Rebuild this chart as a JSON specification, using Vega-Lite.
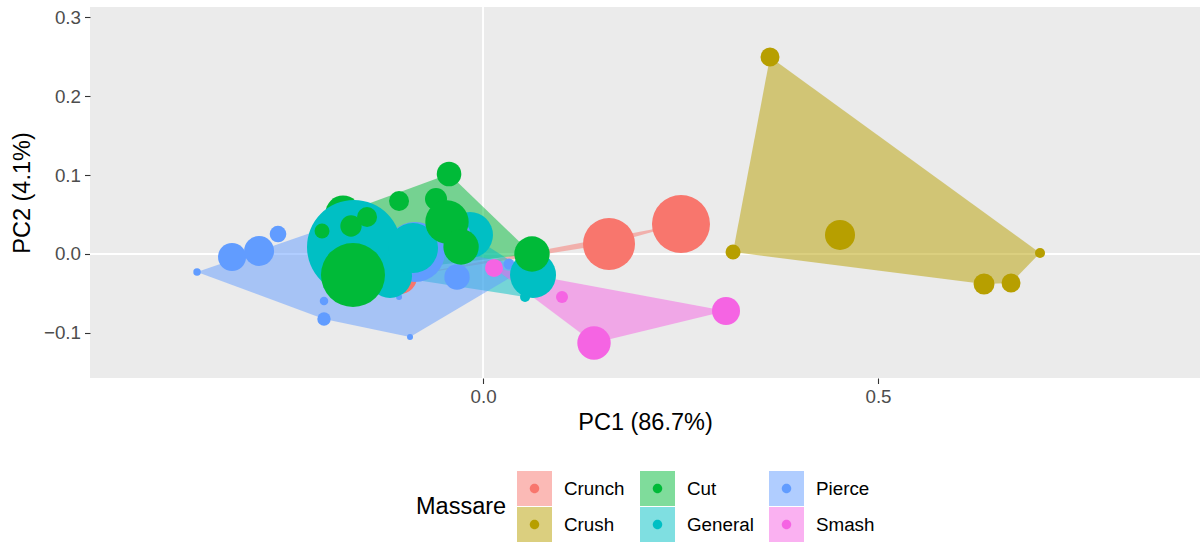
{
  "$schema": "https://vega.github.io/schema/vega-lite/v6.json",
  "width": 1110,
  "height": 371,
  "autosize": {"type": "none"},
  "padding": {"left": 90, "top": 7, "right": 2, "bottom": 166},
  "background": "white",
  "config": {
    "view": {"fill": "#EBEBEB", "stroke": null},
    "font": "Liberation Sans",
    "axis": {
      "grid": false, "domain": false,
      "tickColor": "#333333", "tickSize": 5.5, "tickWidth": 1.1,
      "labelColor": "#4D4D4D", "labelFontSize": 18.8, "labelFont": "Liberation Sans",
      "titleFont": "Liberation Sans", "titleFontSize": 23.5, "titleFontWeight": "normal", "titleColor": "#000000",
      "labelPadding": 4
    },
    "axisY": {"titlePadding": 9},
    "legend": {"labelFont": "Liberation Sans", "titleFont": "Liberation Sans"}
  },
  "datasets": {
    "points": [
      {"Massare": "Crunch", "PC1": -0.1051, "PC2": -0.0291, "n": 289},
      {"Massare": "Crunch", "PC1": 0.1595, "PC2": 0.0127, "n": 676},
      {"Massare": "Crunch", "PC1": 0.2506, "PC2": 0.0380, "n": 841},
      {"Massare": "Crush", "PC1": 0.3633, "PC2": 0.2494, "n": 90},
      {"Massare": "Crush", "PC1": 0.3165, "PC2": 0.0025, "n": 56},
      {"Massare": "Crush", "PC1": 0.4519, "PC2": 0.0241, "n": 225},
      {"Massare": "Crush", "PC1": 0.6342, "PC2": -0.0380, "n": 110},
      {"Massare": "Crush", "PC1": 0.6684, "PC2": -0.0367, "n": 90},
      {"Massare": "Crush", "PC1": 0.7051, "PC2": 0.0013, "n": 25},
      {"Massare": "Pierce", "PC1": -0.3620, "PC2": -0.0228, "n": 14},
      {"Massare": "Pierce", "PC1": -0.3177, "PC2": -0.0038, "n": 196},
      {"Massare": "Pierce", "PC1": -0.2835, "PC2": 0.0038, "n": 225},
      {"Massare": "Pierce", "PC1": -0.2595, "PC2": 0.0253, "n": 69},
      {"Massare": "Pierce", "PC1": -0.2013, "PC2": -0.0595, "n": 18},
      {"Massare": "Pierce", "PC1": -0.2013, "PC2": -0.0823, "n": 45},
      {"Massare": "Pierce", "PC1": -0.0924, "PC2": -0.1051, "n": 9},
      {"Massare": "Pierce", "PC1": -0.1063, "PC2": -0.0544, "n": 9},
      {"Massare": "Pierce", "PC1": -0.0861, "PC2": 0.0025, "n": 900},
      {"Massare": "Pierce", "PC1": -0.0329, "PC2": -0.0291, "n": 161},
      {"Massare": "Pierce", "PC1": 0.0329, "PC2": -0.0127, "n": 30},
      {"Massare": "Pierce", "PC1": -0.2038, "PC2": 0.0316, "n": 16},
      {"Massare": "Pierce", "PC1": 0.0595, "PC2": -0.0152, "n": 16},
      {"Massare": "Cut", "PC1": -0.1772, "PC2": 0.0519, "n": 306},
      {"Massare": "General", "PC1": -0.1633, "PC2": 0.0089, "n": 2209},
      {"Massare": "General", "PC1": -0.1177, "PC2": -0.0278, "n": 484},
      {"Massare": "General", "PC1": -0.0886, "PC2": 0.0076, "n": 625},
      {"Massare": "General", "PC1": -0.0165, "PC2": 0.0241, "n": 529},
      {"Massare": "General", "PC1": 0.0633, "PC2": -0.0266, "n": 529},
      {"Massare": "General", "PC1": 0.0532, "PC2": -0.0544, "n": 25},
      {"Massare": "Pierce", "PC1": -0.0266, "PC2": 0.0278, "n": 64},
      {"Massare": "Cut", "PC1": -0.2038, "PC2": 0.0291, "n": 56},
      {"Massare": "Cut", "PC1": -0.1671, "PC2": 0.0354, "n": 114},
      {"Massare": "Cut", "PC1": -0.1468, "PC2": 0.0468, "n": 100},
      {"Massare": "Cut", "PC1": -0.1646, "PC2": -0.0266, "n": 1024},
      {"Massare": "Cut", "PC1": -0.1063, "PC2": 0.0671, "n": 100},
      {"Massare": "Cut", "PC1": -0.0430, "PC2": 0.1013, "n": 151},
      {"Massare": "Cut", "PC1": -0.0595, "PC2": 0.0696, "n": 121},
      {"Massare": "Cut", "PC1": -0.0456, "PC2": 0.0405, "n": 471},
      {"Massare": "Cut", "PC1": -0.0278, "PC2": 0.0089, "n": 313},
      {"Massare": "Cut", "PC1": 0.0620, "PC2": 0.0000, "n": 313},
      {"Massare": "Smash", "PC1": 0.0139, "PC2": -0.0177, "n": 81},
      {"Massare": "Smash", "PC1": 0.1000, "PC2": -0.0544, "n": 36},
      {"Massare": "Smash", "PC1": 0.1405, "PC2": -0.1127, "n": 279},
      {"Massare": "Smash", "PC1": 0.3076, "PC2": -0.0722, "n": 196}
    ],
    "hulls": [
      {"Massare": "Crunch", "vertex": 1, "PC1": -0.1051, "PC2": -0.0291},
      {"Massare": "Crunch", "vertex": 2, "PC1": 0.1595, "PC2": 0.0127},
      {"Massare": "Crunch", "vertex": 3, "PC1": 0.2506, "PC2": 0.0380},
      {"Massare": "Crush", "vertex": 1, "PC1": 0.3633, "PC2": 0.2494},
      {"Massare": "Crush", "vertex": 2, "PC1": 0.7051, "PC2": 0.0013},
      {"Massare": "Crush", "vertex": 3, "PC1": 0.6684, "PC2": -0.0367},
      {"Massare": "Crush", "vertex": 4, "PC1": 0.6342, "PC2": -0.0380},
      {"Massare": "Crush", "vertex": 5, "PC1": 0.3165, "PC2": 0.0025},
      {"Massare": "Cut", "vertex": 1, "PC1": -0.2038, "PC2": 0.0291},
      {"Massare": "Cut", "vertex": 2, "PC1": -0.1772, "PC2": 0.0519},
      {"Massare": "Cut", "vertex": 3, "PC1": -0.0430, "PC2": 0.1013},
      {"Massare": "Cut", "vertex": 4, "PC1": 0.0620, "PC2": 0.0000},
      {"Massare": "Cut", "vertex": 5, "PC1": -0.1646, "PC2": -0.0266},
      {"Massare": "General", "vertex": 1, "PC1": -0.1633, "PC2": 0.0089},
      {"Massare": "General", "vertex": 2, "PC1": -0.0165, "PC2": 0.0241},
      {"Massare": "General", "vertex": 3, "PC1": 0.0633, "PC2": -0.0266},
      {"Massare": "General", "vertex": 4, "PC1": 0.0532, "PC2": -0.0544},
      {"Massare": "General", "vertex": 5, "PC1": -0.1177, "PC2": -0.0278},
      {"Massare": "Pierce", "vertex": 1, "PC1": -0.3620, "PC2": -0.0228},
      {"Massare": "Pierce", "vertex": 2, "PC1": -0.2038, "PC2": 0.0316},
      {"Massare": "Pierce", "vertex": 3, "PC1": 0.0595, "PC2": -0.0152},
      {"Massare": "Pierce", "vertex": 4, "PC1": -0.0924, "PC2": -0.1051},
      {"Massare": "Pierce", "vertex": 5, "PC1": -0.2013, "PC2": -0.0823},
      {"Massare": "Smash", "vertex": 1, "PC1": 0.0139, "PC2": -0.0177},
      {"Massare": "Smash", "vertex": 2, "PC1": 0.3076, "PC2": -0.0722},
      {"Massare": "Smash", "vertex": 3, "PC1": 0.1405, "PC2": -0.1127}
    ]
  },
  "layer": [
    {
      "data": {"values": [{"ref": 0}]},
      "mark": {"type": "rule", "color": "white", "strokeWidth": 1.8},
      "encoding": {
        "x": {"datum": 0, "type": "quantitative", "scale": {"domain": [-0.4975, 0.9076], "nice": false, "zero": false}, "axis": {"values": [0, 0.5], "format": ".1f"}, "title": "PC1 (86.7%)"}
      }
    },
    {
      "data": {"values": [{"ref": 0}]},
      "mark": {"type": "rule", "color": "white", "strokeWidth": 1.8},
      "encoding": {
        "y": {"datum": 0, "type": "quantitative", "scale": {"domain": [-0.157, 0.3127], "nice": false, "zero": false}, "axis": {"values": [-0.1, 0, 0.1, 0.2, 0.3], "format": ".1f"}, "title": "PC2 (4.1%)"}
      }
    },
    {
      "data": {"name": "hulls"},
      "mark": {"type": "line", "interpolate": "linear-closed", "fillOpacity": 0.5, "strokeWidth": 0, "strokeOpacity": 0},
      "encoding": {
        "x": {"field": "PC1", "type": "quantitative", "title": "PC1 (86.7%)"},
        "y": {"field": "PC2", "type": "quantitative", "title": "PC2 (4.1%)"},
        "fill": {
          "field": "Massare", "type": "nominal",
          "scale": {"domain": ["Crunch", "Cut", "Pierce", "Crush", "General", "Smash"], "range": ["#F8766D", "#00BA38", "#619CFF", "#B79F00", "#00BFC4", "#F564E3"]},
          "legend": {
            "orient": "none", "legendX": 326, "legendY": 464, "direction": "horizontal", "columns": 3,
            "symbolType": "square", "symbolSize": 1225, "symbolOffset": 0, "symbolStrokeWidth": 0, "symbolOpacity": 0.5,
            "labelOffset": 12, "columnPadding": 15, "rowPadding": 1, "clipHeight": 35,
            "title": "Massare", "titleOrient": "left", "titleAnchor": "middle", "titleBaseline": "middle", "titlePadding": 10,
            "titleFontSize": 23.5, "titleFontWeight": "normal", "titleColor": "#000000",
            "labelFontSize": 18.8, "labelColor": "#000000", "padding": 0, "zindex": 1
          }
        },
        "detail": {"field": "Massare"},
        "order": {"field": "vertex", "type": "quantitative"}
      }
    },
    {
      "data": {"name": "points"},
      "mark": {"type": "circle", "opacity": 1},
      "encoding": {
        "x": {"field": "PC1", "type": "quantitative", "title": "PC1 (86.7%)"},
        "y": {"field": "PC2", "type": "quantitative", "title": "PC2 (4.1%)"},
        "color": {
          "field": "Massare", "type": "nominal",
          "scale": {"domain": ["Crunch", "Crush", "Cut", "General", "Pierce", "Smash"], "range": ["#F8766D", "#B79F00", "#00BA38", "#00BFC4", "#619CFF", "#F564E3"]},
          "legend": {
            "values": ["Crunch", "Cut", "Pierce", "Crush", "General", "Smash"],
            "orient": "none", "legendX": 326, "legendY": 464, "direction": "horizontal", "columns": 3,
            "symbolType": "M0.27,0A0.27,0.27,0,1,1,-0.27,0A0.27,0.27,0,1,1,0.27,0Z", "symbolSize": 1225, "symbolOffset": 0, "symbolStrokeWidth": 0, "symbolOpacity": 1,
            "labelOffset": 12, "columnPadding": 15, "rowPadding": 1, "clipHeight": 35,
            "title": "Massare", "titleOrient": "left", "titleAnchor": "middle", "titleBaseline": "middle", "titlePadding": 10,
            "titleFontSize": 23.5, "titleFontWeight": "normal", "titleOpacity": 0,
            "labelFontSize": 18.8, "labelOpacity": 0, "padding": 0, "zindex": 2
          }
        },
        "size": {"field": "n", "type": "quantitative", "scale": {"domain": [0, 2500], "range": [0, 10000]}, "legend": null}
      }
    }
  ]
}
